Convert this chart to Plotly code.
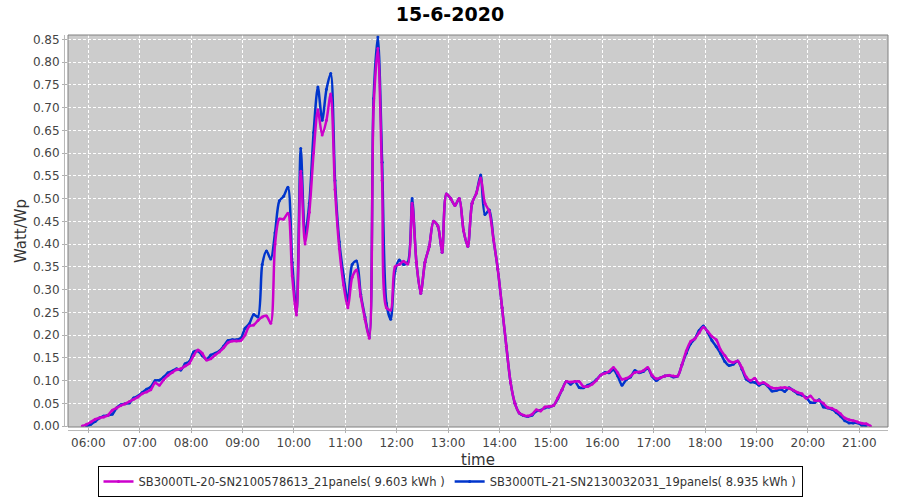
import pandas as pd
import plotly.graph_objects as go

TITLE = "15-6-2020"
# samples every 5 minutes, 05:53 .. 21:13
times = pd.date_range("2020-06-15 05:53", "2020-06-15 21:13", freq="5min")

INV20_NAME = "SB3000TL-20-SN2100578613_21panels( 9.603 kWh )"
INV21_NAME = "SB3000TL-21-SN2130032031_19panels( 8.935 kWh )"

# Watt/Wp, one row per hour (:03 ... :58)
inv20 = [
    0.0, 0.004,
    0.009, 0.015, 0.018, 0.020, 0.024, 0.035, 0.040, 0.045, 0.049, 0.054, 0.059, 0.064,
    0.071, 0.075, 0.080, 0.095, 0.090, 0.102, 0.111, 0.118, 0.124, 0.126, 0.132, 0.138,
    0.155, 0.167, 0.160, 0.145, 0.148, 0.156, 0.163, 0.172, 0.183, 0.187, 0.187, 0.188,
    0.200, 0.220, 0.222, 0.232, 0.240, 0.242, 0.226, 0.400, 0.455, 0.455, 0.468, 0.330,
    0.244, 0.560, 0.400, 0.470, 0.600, 0.695, 0.640, 0.672, 0.730, 0.520, 0.390, 0.310,
    0.260, 0.327, 0.343, 0.285, 0.235, 0.193, 0.700, 0.830, 0.540, 0.260, 0.255, 0.350,
    0.355, 0.362, 0.356, 0.490, 0.360, 0.292, 0.360, 0.395, 0.450, 0.440, 0.382, 0.510,
    0.500, 0.485, 0.500, 0.430, 0.395, 0.490, 0.512, 0.545, 0.490, 0.472, 0.410, 0.345,
    0.260, 0.175, 0.095, 0.050, 0.029, 0.024, 0.022, 0.026, 0.036, 0.033, 0.042, 0.043,
    0.045, 0.062, 0.080, 0.098, 0.097, 0.098, 0.098, 0.087, 0.087, 0.092, 0.100, 0.112,
    0.116, 0.120, 0.129, 0.117, 0.103, 0.105, 0.110, 0.118, 0.119, 0.122, 0.129, 0.112,
    0.104, 0.106, 0.110, 0.112, 0.110, 0.110, 0.135, 0.165, 0.186, 0.192, 0.205, 0.217,
    0.208, 0.197, 0.190, 0.168, 0.155, 0.143, 0.140, 0.143, 0.128, 0.108, 0.100, 0.105,
    0.093, 0.096, 0.090, 0.084, 0.083, 0.084, 0.085, 0.083, 0.079, 0.074, 0.071, 0.061,
    0.066, 0.056, 0.056, 0.050, 0.041, 0.039, 0.034, 0.027, 0.018, 0.014, 0.012, 0.009,
    0.006, 0.005, 0.0,
]
inv21 = [
    None, 0.0,
    0.004, 0.010, 0.018, 0.022, 0.024, 0.026, 0.040, 0.047, 0.049, 0.051, 0.062, 0.066,
    0.074, 0.081, 0.086, 0.100, 0.101, 0.108, 0.117, 0.121, 0.126, 0.123, 0.137, 0.142,
    0.163, 0.165, 0.155, 0.147, 0.156, 0.160, 0.165, 0.176, 0.188, 0.190, 0.190, 0.193,
    0.215, 0.225, 0.245, 0.240, 0.355, 0.385, 0.367, 0.425, 0.495, 0.505, 0.525, 0.360,
    0.252, 0.610, 0.420, 0.490, 0.645, 0.745, 0.672, 0.740, 0.775, 0.540, 0.405, 0.330,
    0.275, 0.355, 0.363, 0.290, 0.240, 0.196, 0.720, 0.855, 0.580, 0.270, 0.235, 0.340,
    0.365, 0.355, 0.360, 0.500, 0.360, 0.292, 0.360, 0.395, 0.450, 0.440, 0.382, 0.510,
    0.500, 0.485, 0.500, 0.430, 0.395, 0.490, 0.512, 0.552, 0.465, 0.475, 0.410, 0.345,
    0.260, 0.175, 0.095, 0.050, 0.029, 0.023, 0.021, 0.024, 0.033, 0.035, 0.040, 0.042,
    0.045, 0.060, 0.080, 0.098, 0.092, 0.098, 0.085, 0.084, 0.090, 0.094, 0.102, 0.112,
    0.118, 0.117, 0.124, 0.110, 0.090, 0.102, 0.108, 0.122, 0.117, 0.120, 0.127, 0.110,
    0.100, 0.106, 0.110, 0.111, 0.108, 0.110, 0.135, 0.160, 0.181, 0.192, 0.210, 0.220,
    0.206, 0.188, 0.175, 0.160, 0.142, 0.133, 0.136, 0.143, 0.125, 0.103, 0.097, 0.096,
    0.090, 0.094, 0.088, 0.077, 0.078, 0.081, 0.076, 0.084, 0.078, 0.071, 0.068, 0.063,
    0.052, 0.052, 0.058, 0.042, 0.040, 0.037, 0.030, 0.022, 0.012, 0.007, 0.007, 0.007,
    0.002, 0.001, None,
]

FONT = "DejaVu Sans"
MAGENTA = "#cc00cc"
BLUE = "#0035cc"

fig = go.Figure()
# blue first so the magenta series sits on top (as in the original)
for name, vals, col in [(INV21_NAME, inv21, BLUE), (INV20_NAME, inv20, MAGENTA)]:
    fig.add_trace(go.Scatter(
        x=times, y=vals, name=name, mode="lines+markers",
        line=dict(color=col, width=2.5, shape="spline", smoothing=0.8),
        marker=dict(color=col, size=3),
        connectgaps=False,
    ))

fig.update_layout(
    width=900, height=500,
    margin=dict(l=68, r=12, t=35, b=73, autoexpand=False),
    paper_bgcolor="white",
    plot_bgcolor="#cccccc",
    font=dict(family=FONT, size=12, color="#444444"),
    title=dict(text="<b>" + TITLE + "</b>", x=0.5, xanchor="center",
               yref="container", y=0.972, yanchor="middle",
               font=dict(family=FONT, size=19, color="black")),
    showlegend=True,
    legend=dict(
        orientation="h", traceorder="reversed",
        xref="container", x=0.5, xanchor="center",
        yref="container", y=0.006, yanchor="bottom",
        bordercolor="black", borderwidth=1, bgcolor="white",
        font=dict(family=FONT, size=11.5, color="#333333"),
        itemwidth=30,
    ),
)

fig.update_xaxes(
    range=["2020-06-15 05:36:18", "2020-06-15 21:33:30"],
    tickformat="%H:%M", dtick=3600000, tick0="2020-06-15 06:00",
    showgrid=True, gridcolor="white", gridwidth=1, griddash="3px,2px",
    ticks="outside", ticklen=5, tickcolor="#b0b0b0",
    tickfont=dict(size=12, color="#444444"),
    showline=False, zeroline=False,
)
fig.update_yaxes(
    range=[-0.002, 0.8595], dtick=0.05, tick0=0, tickformat=".2f",
    showgrid=True, gridcolor="white", gridwidth=1, griddash="3px,2px",
    ticks="outside", ticklen=5, tickcolor="#b0b0b0",
    tickfont=dict(size=12, color="#444444"),
    title=dict(text="Watt/Wp", font=dict(size=15, color="#333333"), standoff=2),
    showline=False, zeroline=False,
)

# x axis title sits a little lower than plotly puts it without automargin
fig.add_annotation(text="time", xref="paper", yref="paper", x=0.5, y=-0.084,
                   yanchor="middle", showarrow=False,
                   font=dict(family=FONT, size=15, color="#333333"))

# plot outline and the slightly offset axis lines
fig.add_shape(type="rect", xref="x domain", yref="y domain", x0=0, x1=1, y0=0, y1=1,
              line=dict(color="#808080", width=1))
fig.add_shape(type="line", xref="x domain", yref="y domain", x0=-0.0043, x1=-0.0043, y0=0, y1=1,
              line=dict(color="#b8b8b8", width=1))
fig.add_shape(type="line", xref="x domain", yref="y domain", x0=0, x1=1, y0=-0.009, y1=-0.009,
              line=dict(color="#b8b8b8", width=1))

# the page's default body margin would shift the 900x500 figure
fig.write_html("out.html", config={"displayModeBar": False},
               post_script="document.body.style.margin='0';")
